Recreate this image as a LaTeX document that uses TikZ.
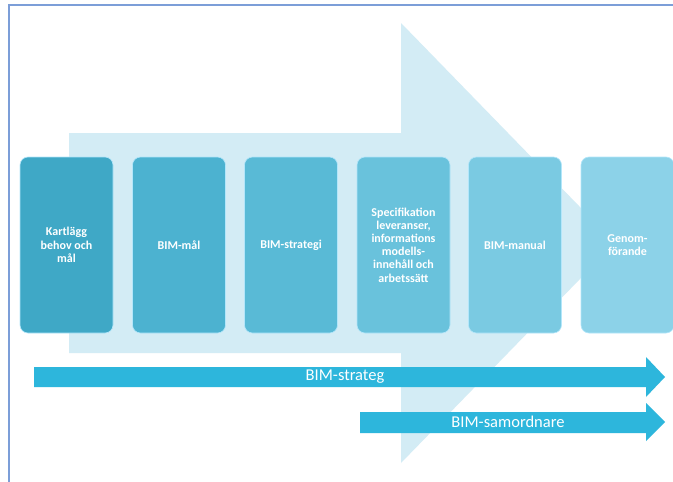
\documentclass[tikz,border=0pt]{standalone}
\usepackage{fontspec}
\setmainfont{Carlito}
\usepackage{tikz}
\usetikzlibrary{positioning}
\definecolor{framecol}{HTML}{7C9ED8}
\definecolor{bigarrow}{HTML}{D3ECF5}
\definecolor{thinarrow}{HTML}{2DB6DC}
\definecolor{stepA}{HTML}{3FA8C6}
\definecolor{stepB}{HTML}{4CB2D0}
\definecolor{stepC}{HTML}{59BAD6}
\definecolor{stepD}{HTML}{69C2DC}
\definecolor{stepE}{HTML}{7ACAE2}
\definecolor{stepF}{HTML}{8CD2E8}
\tikzset{stepbox/.style = {rounded corners=8pt, draw=white!70!cyan, line width=0.6pt,
                           minimum width=93pt, minimum height=176pt,
                           text=white, align=center,
                           font=\fontsize{12}{13.2}\selectfont\bfseries}}
\tikzset{rolelabel/.style = {text=white, font=\fontsize{16.5}{18}\selectfont}}

\begin{document}
\begin{tikzpicture}[x=1pt, y=-1pt]
      \useasboundingbox (0, 0) rectangle (673, 482);
      \fill [white] (0, 0) rectangle (673, 482);
      \draw [framecol, line width=1.5pt] (9, 482) -- (9, 5) -- (673, 5);
      \fill [bigarrow] (69, 133) -- (401, 133) -- (401, 23) -- (615, 243)
                       -- (401, 463) -- (401, 353) -- (69, 353) -- cycle;
      \node [stepbox, fill=stepA] (kartlagg) at (66.5, 245) {Kartlägg\\behov och\\mål};
      \node [stepbox, fill=stepB] (mal) at (179, 245) {BIM-mål};
      \node [stepbox, fill=stepC] (strategi) at (291, 245) {BIM-strategi};
      \node [stepbox, fill=stepD] (spec) at (403.5, 245)
            {Specifikation\\leveranser,\\informations\\modells-\\innehåll och\\arbetssätt};
      \node [stepbox, fill=stepE] (manual) at (515, 245) {BIM-manual};
      \node [stepbox, fill=stepF] (genom) at (627.5, 245) {Genom-\\förande};
      \fill [thinarrow] (34, 367) -- (646, 367) -- (646, 357) -- (665, 377)
                        -- (646, 397) -- (646, 387) -- (34, 387) -- cycle;
      \node [rolelabel] (strateg) at (345, 377) {BIM-strateg};
      \fill [thinarrow] (360, 412) -- (646, 412) -- (646, 403) -- (665, 422)
                        -- (646, 441) -- (646, 433) -- (360, 433) -- cycle;
      \node [rolelabel] (samordnare) at (508, 422) {BIM-samordnare};
    \end{tikzpicture}
\end{document}
